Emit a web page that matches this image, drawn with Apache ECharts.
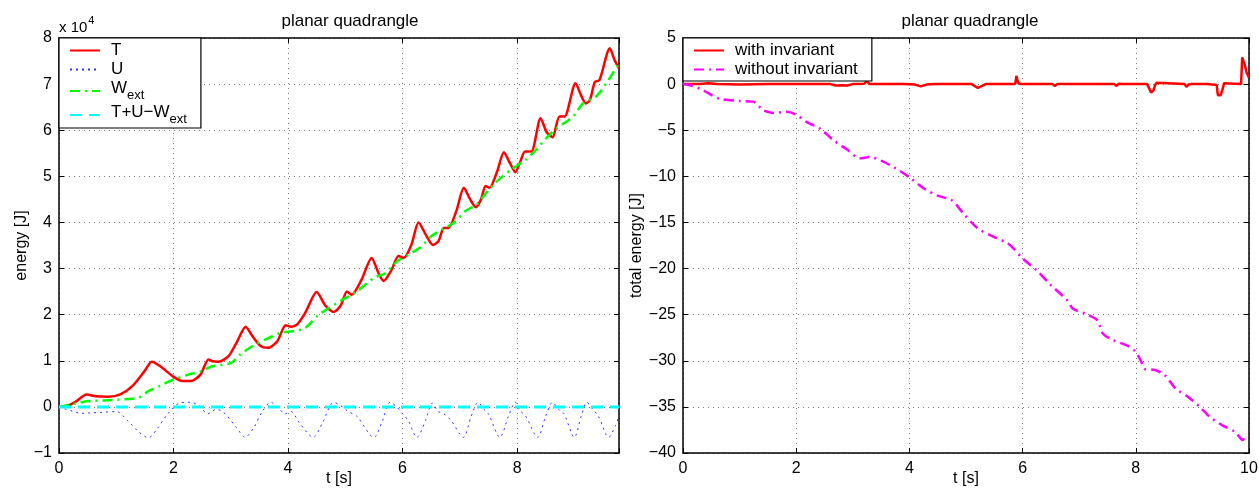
<!DOCTYPE html>
<html>
<head>
<meta charset="utf-8">
<script src="https://cdn.jsdelivr.net/npm/echarts@6/dist/echarts.min.js"></script>
<style>
html,body{margin:0;padding:0;background:#fff;}
#c{width:1259px;height:490px;}
</style>
</head>
<body>
<div id="c"></div>
<script>
// ---- Left chart data (energy in units of 10^4 J) ----
const tT = [0, 0.16, 0.3, 0.48, 0.65, 0.86, 1.07, 1.28, 1.49, 1.62, 1.77, 1.98, 2.16, 2.3, 2.47, 2.61, 2.68, 2.79, 2.96, 3.1, 3.26, 3.38, 3.52, 3.65, 3.81, 3.96, 4.05, 4.16, 4.3, 4.5, 4.65, 4.8, 4.92, 5.03, 5.11, 5.28, 5.46, 5.58, 5.67, 5.8, 5.93, 6.02, 6.15, 6.28, 6.42, 6.53, 6.63, 6.72, 6.8, 6.94, 7.07, 7.18, 7.28, 7.37, 7.45, 7.52, 7.65, 7.77, 7.87, 7.97, 8.05, 8.14, 8.25, 8.41, 8.52, 8.62, 8.74, 8.83, 9.02, 9.12, 9.2, 9.27, 9.36, 9.44, 9.62, 9.7, 9.78];
const vT = [0, 0.03, 0.12, 0.27, 0.23, 0.22, 0.27, 0.45, 0.77, 0.98, 0.88, 0.67, 0.56, 0.56, 0.70, 1.03, 0.99, 0.98, 1.10, 1.39, 1.74, 1.53, 1.32, 1.28, 1.42, 1.77, 1.74, 1.79, 2.04, 2.49, 2.2, 2.06, 2.2, 2.5, 2.43, 2.75, 3.23, 2.9, 2.73, 2.95, 3.27, 3.23, 3.5, 4.0, 3.7, 3.51, 3.6, 3.88, 3.88, 4.25, 4.75, 4.5, 4.33, 4.5, 4.79, 4.75, 5.1, 5.52, 5.3, 5.09, 5.3, 5.54, 5.54, 6.26, 5.95, 5.85, 6.3, 6.3, 7.02, 6.75, 6.58, 6.65, 7.05, 7.09, 7.78, 7.53, 7.34];

const tU = [0, 0.2, 0.4, 0.55, 0.75, 1.0, 1.2, 1.4, 1.56, 1.7, 1.9, 2.1, 2.3, 2.45, 2.6, 2.75, 2.9, 3.1, 3.25, 3.4, 3.55, 3.7, 3.85, 3.95, 4.05, 4.2, 4.44, 4.6, 4.8, 4.95, 5.05, 5.2, 5.5, 5.65, 5.78, 5.9, 6.0, 6.1, 6.25, 6.4, 6.52, 6.62, 6.72, 6.85, 7.06, 7.2, 7.32, 7.42, 7.5, 7.7, 7.85, 7.97, 8.05, 8.15, 8.36, 8.5, 8.62, 8.72, 8.82, 9.0, 9.12, 9.22, 9.32, 9.42, 9.6, 9.72, 9.78];
const vU = [0, -0.08, -0.14, -0.13, -0.12, -0.1, -0.3, -0.55, -0.67, -0.5, -0.15, 0.08, 0.1, 0.02, -0.15, -0.05, -0.15, -0.45, -0.66, -0.45, -0.1, 0.1, -0.05, -0.15, -0.1, -0.35, -0.66, -0.35, 0.1, 0.0, -0.1, -0.2, -0.66, -0.3, 0.1, 0.0, -0.15, -0.3, -0.66, -0.3, 0.08, -0.1, -0.15, -0.3, -0.66, -0.2, 0.1, -0.05, -0.15, -0.66, -0.2, 0.1, -0.08, -0.2, -0.66, -0.2, 0.1, -0.05, -0.15, -0.66, -0.2, 0.1, -0.05, -0.2, -0.66, -0.4, -0.2];

const tW = [0, 0.2, 0.48, 0.79, 1.07, 1.39, 1.56, 1.77, 1.98, 2.26, 2.47, 2.68, 3.0, 3.17, 3.38, 3.6, 3.88, 4.09, 4.3, 4.51, 4.72, 4.96, 5.2, 5.5, 5.7, 5.9, 6.1, 6.3, 6.5, 6.7, 6.9, 7.1, 7.3, 7.5, 7.7, 7.9, 8.16, 8.35, 8.51, 8.69, 8.98, 9.15, 9.38, 9.56, 9.78];
const vW = [0, 0.05, 0.12, 0.14, 0.16, 0.2, 0.34, 0.46, 0.58, 0.70, 0.77, 0.88, 0.95, 1.14, 1.32, 1.46, 1.61, 1.64, 1.71, 1.97, 2.15, 2.33, 2.5, 2.8, 2.9, 3.15, 3.3, 3.45, 3.7, 3.85, 4.0, 4.25, 4.4, 4.7, 4.95, 5.15, 5.37, 5.6, 5.83, 6.04, 6.30, 6.58, 6.73, 7.02, 7.45];

const tS = [0, 2, 4, 6, 8, 9.78];
const vS = [0, 0, 0, 0, 0, 0];

// ---- Right chart data (total energy, J) ----
const tR1 = [0, 0.3, 0.45, 0.6, 1.0, 1.5, 2.0, 2.6, 2.7, 2.8, 2.9, 3.0, 3.2, 3.25, 3.3, 3.9, 4.1, 4.2, 4.3, 4.45, 5.1, 5.21, 5.35, 5.87, 5.89, 5.92, 5.96, 6.16, 6.19, 6.22, 6.32, 6.35, 6.38, 6.53, 6.57, 6.61, 7.02, 7.05, 7.08, 7.62, 7.66, 7.7, 7.73, 7.76, 8.2, 8.23, 8.27, 8.31, 8.34, 8.37, 8.4, 8.86, 8.9, 8.93, 8.96, 8.99, 9.2, 9.23, 9.26, 9.43, 9.45, 9.5, 9.53, 9.56, 9.59, 9.86, 9.88, 9.92, 9.96, 10];
const vR1 = [0, 0, 0.1, 0, -0.05, 0, 0, 0, -0.15, -0.12, -0.15, 0, 0.05, 0.3, 0, 0, -0.05, -0.25, -0.05, 0, 0, -0.42, 0, 0, 0.9, 0.15, 0, 0, -0.15, 0, 0, -0.12, 0, 0, -0.2, 0, 0, 0.2, 0, 0, -0.2, 0.05, 0.1, 0, 0, -0.15, -0.9, -0.7, -0.1, 0.15, 0, 0, -0.3, -0.05, 0.1, 0, 0, 0.05, 0, -0.1, -1.2, -1.2, -0.6, 0.1, 0, 0, 2.9, 2.2, 1.2, 0.7];

const tR2 = [0, 0.15, 0.3, 0.44, 0.65, 1.0, 1.24, 1.42, 1.6, 1.83, 2.0, 2.18, 2.42, 2.66, 2.9, 3.13, 3.3, 3.5, 3.75, 4.0, 4.25, 4.5, 4.75, 4.95, 5.2, 5.5, 5.75, 6.0, 6.25, 6.5, 6.79, 6.89, 7.11, 7.32, 7.42, 7.61, 7.83, 7.98, 8.09, 8.16, 8.34, 8.52, 8.7, 8.92, 9.13, 9.31, 9.53, 9.75, 9.89, 9.92];
const vR2 = [0, -0.17, -0.5, -0.96, -1.6, -1.83, -1.9, -2.84, -3.13, -3.0, -3.31, -4.1, -4.83, -6.1, -7.1, -8.05, -7.9, -8.3, -9.1, -10.1, -11.3, -12.1, -12.6, -14.0, -15.6, -16.6, -17.3, -18.9, -20.2, -21.8, -23.45, -24.35, -24.9, -25.6, -27.06, -27.8, -28.3, -28.9, -30.0, -30.9, -31.0, -31.6, -33.0, -33.9, -35.0, -36.1, -37.0, -37.7, -38.6, -38.1];

// ---- Axis ticks ----
const leftXTicks = [0, 2, 4, 6, 8];
const leftYTicks = [-1, 0, 1, 2, 3, 4, 5, 6, 7, 8];
const rightXTicks = [0, 2, 4, 6, 8, 10];
const rightYTicks = [-40, -35, -30, -25, -20, -15, -10, -5, 0, 5];

const FONT = 'Liberation Sans, Arial, Helvetica, sans-serif';
const pairs = (t, v) => t.map((x, i) => [x, v[i]]);
const minus = v => String(v).replace('-', '\u2212');

function mkX(gi, ticks, max, pos, labels) {
  return {
    type: 'value', gridIndex: gi, position: pos,
    min: ticks[0], max: max, interval: ticks[1] - ticks[0],
    axisLine: { show: true, onZero: false, lineStyle: { color: '#000', width: 1.5 } },
    axisTick: { show: true, inside: true, length: 5, lineStyle: { color: '#000' } },
    axisLabel: labels ? {
      show: true, color: '#000', fontSize: 16, fontFamily: FONT, margin: 8,
      formatter: v => ticks.some(k => Math.abs(k - v) < 1e-6) ? minus(v) : ''
    } : { show: false },
    splitLine: labels ? { show: true, lineStyle: { type: [1, 4], color: '#777', width: 1 } } : { show: false },
    name: labels ? 't [s]' : '', nameLocation: 'middle', nameGap: 18, nameMoveOverlap: false,
    nameTextStyle: { color: '#000', fontSize: 16, fontFamily: FONT }
  };
}
function mkY(gi, ticks, pos, labels, name, gap) {
  return {
    type: 'value', gridIndex: gi, position: pos,
    min: ticks[0], max: ticks[ticks.length - 1], interval: ticks[1] - ticks[0],
    axisLine: { show: true, onZero: false, lineStyle: { color: '#000', width: 1.5 } },
    axisTick: { show: true, inside: true, length: 5, lineStyle: { color: '#000' } },
    axisLabel: labels ? { show: true, color: '#000', fontSize: 16, fontFamily: FONT, margin: 7, formatter: v => minus(v) } : { show: false },
    splitLine: labels ? { show: true, lineStyle: { type: [1, 4], color: '#777', width: 1 } } : { show: false },
    name: labels ? name : '', nameLocation: 'middle', nameGap: gap || 30,
    nameTextStyle: { color: '#000', fontSize: 16, fontFamily: FONT }
  };
}

const legendRich = {
  n: { fontSize: 17, fontFamily: FONT, color: '#000' },
  b: { fontSize: 17, fontFamily: FONT, color: '#000', padding: [0, 0, 5, 0] },
  s: { fontSize: 13, fontFamily: FONT, color: '#000', padding: [9, 0, 0, 0] }
};
const legendNames = { 'T': '{n|T}', 'U': '{n|U}', 'W_ext': '{b|W}{s|ext}', 'T+U-W_ext': '{b|T+U\u2212W}{s|ext}',
  'with invariant': '{n|with invariant}', 'without invariant': '{n|without invariant}' };
const hiddenSymbol = { color: 'rgba(0,0,0,0)', borderWidth: 0, opacity: 0 };

const chart = echarts.init(document.getElementById('c'), null, { renderer: 'canvas' });
chart.setOption({
  animation: false,
  backgroundColor: '#fff',
  title: [
    { text: 'planar quadrangle', left: 345, top: 8, textAlign: 'center', textStyle: { fontSize: 17, fontWeight: 'normal', color: '#000', fontFamily: FONT } },
    { text: 'planar quadrangle', left: 965, top: 8, textAlign: 'center', textStyle: { fontSize: 17, fontWeight: 'normal', color: '#000', fontFamily: FONT } }
  ],
  graphic: [
    { type: 'text', left: 59, top: 15, style: { text: '{a|x 10}{b|4}', rich: {
      a: { fontSize: 15, fontFamily: FONT, fill: '#000', padding: [6, 0, 0, 0] },
      b: { fontSize: 11, fontFamily: FONT, fill: '#000', padding: [0, 0, 8, 1] } } } }
  ],
  grid: [
    { left: 59, right: 640, top: 38, bottom: 37, outerBoundsMode: 'none', containLabel: false },
    { left: 683, right: 10, top: 38, bottom: 37, outerBoundsMode: 'none', containLabel: false }
  ],
  xAxis: [
    mkX(0, leftXTicks, 9.78, 'bottom', true),
    mkX(0, leftXTicks, 9.78, 'top', false),
    mkX(1, rightXTicks, 10, 'bottom', true),
    mkX(1, rightXTicks, 10, 'top', false)
  ],
  yAxis: [
    mkY(0, leftYTicks, 'left', true, 'energy [J]', 28),
    mkY(0, leftYTicks, 'right', false),
    mkY(1, rightYTicks, 'left', true, 'total energy [J]', 37),
    mkY(1, rightYTicks, 'right', false)
  ],
  legend: [
    { data: ['T', 'U', 'W_ext', 'T+U-W_ext'], orient: 'vertical', left: 59, top: 38,
      padding: [4, 14, 2, 10], itemGap: 2, itemWidth: 30, itemHeight: 14,
      backgroundColor: '#fff', borderColor: '#000', borderWidth: 1.2, borderRadius: 0,
      itemStyle: hiddenSymbol,
      formatter: n => legendNames[n], textStyle: { padding: [0, 0, 0, 6], rich: legendRich } },
    { data: ['with invariant', 'without invariant'], orient: 'vertical', left: 683, top: 38,
      padding: [4, 14, 3, 10], itemGap: 2, itemWidth: 30, itemHeight: 14,
      backgroundColor: '#fff', borderColor: '#000', borderWidth: 1.2, borderRadius: 0,
      itemStyle: hiddenSymbol,
      formatter: n => legendNames[n], textStyle: { padding: [0, 0, 0, 6], rich: legendRich } }
  ],
  series: [
    { name: 'T', type: 'line', xAxisIndex: 0, yAxisIndex: 0, data: pairs(tT, vT), symbol: 'none', smooth: 0.25,
      lineStyle: { color: '#ff0000', width: 2.5 }, itemStyle: { color: '#ff0000' } },
    { name: 'U', type: 'line', xAxisIndex: 0, yAxisIndex: 0, data: pairs(tU, vU), symbol: 'none', smooth: 0.3,
      lineStyle: { color: '#3030ff', width: 1, type: [2, 4] }, itemStyle: { color: '#3030ff' } },
    { name: 'W_ext', type: 'line', xAxisIndex: 0, yAxisIndex: 0, data: pairs(tW, vW), symbol: 'none', smooth: 0.25,
      lineStyle: { color: '#00ff00', width: 2.5, type: [10, 5, 2, 5] }, itemStyle: { color: '#00ff00' } },
    { name: 'T+U-W_ext', type: 'line', xAxisIndex: 0, yAxisIndex: 0, data: pairs(tS, vS), symbol: 'none',
      lineStyle: { color: '#00ffff', width: 3, type: [12, 7] }, itemStyle: { color: '#00ffff' } },
    { name: 'with invariant', type: 'line', xAxisIndex: 2, yAxisIndex: 2, data: pairs(tR1, vR1), symbol: 'none',
      lineStyle: { color: '#ff0000', width: 2.5 }, itemStyle: { color: '#ff0000' } },
    { name: 'without invariant', type: 'line', xAxisIndex: 2, yAxisIndex: 2, data: pairs(tR2, vR2), symbol: 'none', smooth: 0.3,
      lineStyle: { color: '#ff00ff', width: 2.5, type: [10, 5, 2, 5] }, itemStyle: { color: '#ff00ff' } }
  ]
});
</script>
</body>
</html>
